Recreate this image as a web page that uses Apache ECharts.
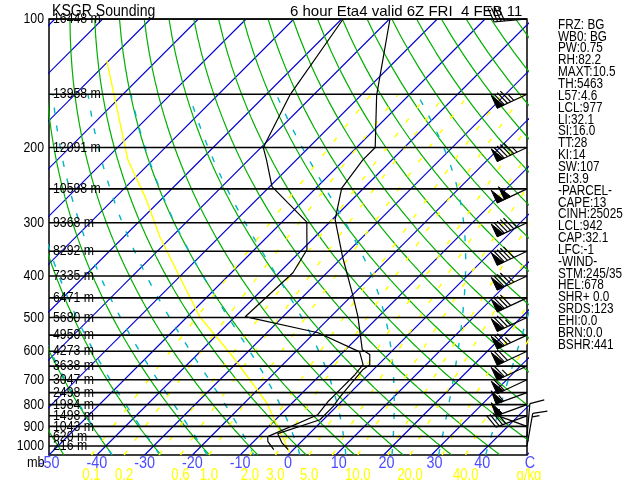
<!DOCTYPE html>
<html><head><meta charset="utf-8">
<script src="https://cdn.jsdelivr.net/npm/echarts@6.0.0/dist/echarts.min.js"></script>
<style>html,body{margin:0;padding:0;background:#fff}#c{width:640px;height:480px}</style>
</head><body><div id="c"></div>
<script>
// ---------------- data ----------------
const pressureLevels = [100,150,200,250,300,350,400,450,500,550,600,650,700,750,800,850,900,950,1000];
const heightLabels = ['16448 m','13958 m','12091 m','10598 m','9368 m','8292 m','7335 m','6471 m','5680 m','4950 m','4273 m','3638 m','3047 m','2498 m','1984 m','1498 m','1043 m','620 m','216 m'];
const pressureTicks = [100,200,300,400,500,600,700,800,900,1000];
const tempTicks = [-50,-40,-30,-20,-10,0,10,20,30,40];
const mixTicks = [0.1,0.2,0.6,1.0,2.0,3.0,5.0,10.0,20.0,40.0];

const tempP = [100,151,200,214,249,295,361,447,497,595,611,645,662,707,766,809,868,936,982,1020];
const tempT = [-69.9,-56.7,-46.1,-46.1,-44.6,-39.4,-30.0,-19.5,-14.4,-6.5,-3.9,-1.8,-2.2,-1.8,-1.3,-0.7,-0.7,-6.6,-3.9,-1.1];
const dewP = [100,151,200,214,247,299,347,393,498,543,602,645,681,738,788,845,951,977,1020];
const dewT = [-79.7,-74.9,-69.5,-66.2,-59.5,-44.8,-39.0,-37.1,-37.9,-19.3,-6.6,-3.2,-2.8,-2.8,-2.8,-2.2,-8.1,-7.0,-4.1];
const refLineP = [125,214,262,324,402,498,618,792,1037];
const refLineT = [-120.5,-95.2,-83.7,-72.4,-59.9,-47.4,-32.1,-15.4,-0.1];

const windP   = [100,150,200,250,300,350,400,450,500,550,600,650,700,750,800,850,900,950,1000];
const windDir = [265,245,245,245,245,245,245,245,245,245,245,245,245,250,250,250,290,5,10];
const windSpd = [40,85,95,100,95,90,85,80,75,75,70,65,60,55,50,40,5,10,15];

const statsLines = ['FRZ: BG','WB0: BG','PW:0.75','RH:82.2','MAXT:10.5','TH:5463','L57:4.6','LCL:977','LI:32.1','SI:16.0','TT:28','KI:14','SW:107','EI:3.9','-PARCEL-','CAPE:13','CINH:25025','LCL:942','CAP:32.1','LFC:-1','-WIND-','STM:245/35','HEL:678','SHR+ 0.0','SRDS:123','EHI:0.0','BRN:0.0','BSHR:441'];

// diagram template values
const isotherms = []; for (let t=-160;t<=50;t+=10) isotherms.push(t);
const dryThetas = []; for (let t=-50;t<=180;t+=10) dryThetas.push(t);
const moistThetaW = [-40,-30,-20,-10,0,10,20,30,40];
const mixLines = [0.1,0.2,0.4,0.6,1,2,3,5,7,10,15,20,30,40];

// ---------------- skew-T transform & thermodynamics ----------------
const SK = 38.8, PB = 1050, PT = 100;
const skx = (T,p) => T + SK*Math.log(PB/p);
const RD=287.04, CP=1005.7, LV=2.501e6, EPS=0.622;
const esat = Tc => 6.112*Math.exp(17.67*Tc/(Tc+243.5));
function dTdp(TK,p){const e=esat(TK-273.15);const rs=EPS*e/(p-e);return (RD*TK+LV*rs)/((CP+LV*LV*rs*EPS/(RD*TK*TK))*p);}
function tdFromW(w,p){const e=w*p/(622+w);const l=Math.log(e/6.112);return 243.5*l/(17.67-l);}

const series = [];
function addLine(pts,color,width,type,z){
  series.push({type:'line',data:pts,symbol:'none',silent:true,animation:false,clip:true,z:z,
    lineStyle:{color:color,width:width,type:type||'solid'}});
}
isotherms.forEach(t=>addLine([[skx(t,PB),PB],[skx(t,PT),PT]],'#0000d0',1.1,'solid',1));
dryThetas.forEach(th=>{const pts=[];for(let p=PB;p>=PT;p-=10){const T=(th+273.15)*Math.pow(p/1000,0.2857)-273.15;pts.push([skx(T,p),p]);}addLine(pts,'#00b000',1.2,'solid',1);});
moistThetaW.forEach(tw=>{
  const up=[];let T=tw+273.15;
  for(let p=1000;p>=150;p-=5){up.push([skx(T-273.15,p),p]);const dp=-5;const k1=dTdp(T,p);const k2=dTdp(T+dp*k1,p+dp);T+=dp*(k1+k2)/2;}
  const down=[];T=tw+273.15;
  for(let p=1000;p<PB;p+=5){const dp=5;const k1=dTdp(T,p);const k2=dTdp(T+dp*k1,p+dp);T+=dp*(k1+k2)/2;down.unshift([skx(T-273.15,p+dp),p+dp]);}
  addLine(down.concat(up),'#00b4c8',1.4,[6,12],1);
});
mixLines.forEach(w=>{const pts=[];for(let p=PB;p>=150;p-=25){pts.push([skx(tdFromW(w,p),p),p]);}addLine(pts,'#ffff00',1.5,[5,13],1);});
addLine(refLineP.map((p,i)=>[skx(refLineT[i],p),p]),'#ffff00',1.4,'solid',2);
pressureLevels.forEach(p=>addLine([[-50,p],[50,p]],'#000',1.6,'solid',3));
addLine(tempP.map((p,i)=>[skx(tempT[i],p),p]),'#000',1.2,'solid',4);
addLine(dewP.map((p,i)=>[skx(dewT[i],p),p]),'#000',1.2,'solid',4);

const FONT = '"Liberation Sans", Arial, sans-serif';
function txt(x,y,text,fill,size,align,sx){
  return {type:'text',x:x,y:y,scaleX:sx,style:{text:text,fill:fill,font:size+'px '+FONT,align:align,verticalAlign:'middle'}};
}
// pressure labels
series.push({type:'custom',coordinateSystem:'cartesian2d',clip:false,silent:true,animation:false,z:6,
  data:pressureTicks.map(p=>[-50,p]),
  renderItem:(params,api)=>{const pt=api.coord([api.value(0),api.value(1)]);
    return txt(pt[0]-5,pt[1],String(api.value(1)),'#000',15,'right',0.82);}});
// height labels
series.push({type:'custom',coordinateSystem:'cartesian2d',clip:false,silent:true,animation:false,z:6,
  data:pressureLevels.map((p,i)=>[-50,p,i]),
  renderItem:(params,api)=>{const pt=api.coord([api.value(0),api.value(1)]);
    return txt(pt[0]+4,pt[1],heightLabels[api.value(2)],'#000',15,'left',0.82);}});
// temperature labels
series.push({type:'custom',coordinateSystem:'cartesian2d',clip:false,silent:true,animation:false,z:6,
  data:tempTicks.map(t=>[t,PB]).concat([[50,PB]]),
  renderItem:(params,api)=>{const pt=api.coord([api.value(0),api.value(1)]);const v=api.value(0);
    return txt(pt[0]+(v>0?3:0),pt[1]+9,v===50?'C':String(v),'#4b4bff',16,'center',0.9);}});
// mixing ratio labels
series.push({type:'custom',coordinateSystem:'cartesian2d',clip:false,silent:true,animation:false,z:6,
  data:mixTicks.map((w,i)=>[skx(tdFromW(w,PB),PB),PB,i]).concat([[50,PB,-1]]),
  renderItem:(params,api)=>{const pt=api.coord([api.value(0),api.value(1)]);const i=api.value(2);
    return txt(pt[0]+(i<0?2:0),pt[1]+21,i<0?'g/kg':mixTicks[i].toFixed(1),'#ffff00',16,'center',0.82);}});
// wind barbs
series.push({type:'custom',coordinateSystem:'cartesian2d',clip:false,silent:true,animation:false,z:5,
  data:windP.map((p,i)=>[50,p,windDir[i],windSpd[i]]),
  renderItem:(params,api)=>{
    const base=api.coord([api.value(0),api.value(1)]);
    const dir=api.value(2)*Math.PI/180;let s=Math.round(api.value(3)/5)*5;
    const L=33,ux=Math.sin(dir),uy=-Math.cos(dir),vx=-uy,vy=ux;
    const tip=[base[0]+ux*L,base[1]+uy*L];
    const st={stroke:'#000',lineWidth:1.2};
    const ch=[{type:'line',shape:{x1:base[0],y1:base[1],x2:tip[0],y2:tip[1]},style:st}];
    let d=0;const tk=14,gap=3.5;
    while(s>=50){const a=[tip[0]-ux*d,tip[1]-uy*d];const b=[tip[0]-ux*(d+7),tip[1]-uy*(d+7)];const c=[a[0]+vx*tk,a[1]+vy*tk];
      ch.push({type:'polygon',shape:{points:[a,c,b]},style:{fill:'#000',stroke:'#000',lineWidth:1}});d+=8;s-=50;}
    while(s>=10){const a=[tip[0]-ux*d,tip[1]-uy*d];ch.push({type:'line',shape:{x1:a[0],y1:a[1],x2:a[0]+vx*tk+ux*tk*0.35,y2:a[1]+vy*tk+uy*tk*0.35},style:st});d+=gap;s-=10;}
    if(s>=5){if(d===0)d=gap;const a=[tip[0]-ux*d,tip[1]-uy*d];ch.push({type:'line',shape:{x1:a[0],y1:a[1],x2:a[0]+vx*tk*0.5+ux*tk*0.18,y2:a[1]+vy*tk*0.5+uy*tk*0.18},style:st});}
    return {type:'group',children:ch};
  }});

const chart = echarts.init(document.getElementById('c'),null,{renderer:'canvas'});
chart.setOption({
  animation:false,
  backgroundColor:'#fff',
  grid:{left:49,right:113,top:19,bottom:25,show:true,borderColor:'#000',borderWidth:1.5,backgroundColor:'transparent'},
  xAxis:{type:'value',min:-50,max:50,show:false,splitLine:{show:false}},
  yAxis:{type:'log',logBase:10,min:PT,max:PB,inverse:true,show:false,splitLine:{show:false}},
  graphic:[
    {type:'text',x:52,y:12,z:10,scaleX:0.88,style:{text:'KSGR Sounding',fill:'#000',font:'16px '+FONT,verticalAlign:'middle'}},
    {type:'text',x:290,y:12,z:10,style:{text:'6 hour Eta4 valid 6Z FRI  4 FEB 11',fill:'#000',font:'15px '+FONT,verticalAlign:'middle'}},
    {type:'text',x:27,y:463,z:10,scaleX:0.85,style:{text:'mb',fill:'#000',font:'15px '+FONT,verticalAlign:'middle'}},
    {type:'text',x:558,y:19,z:10,scaleX:0.84,style:{text:statsLines.join('\n'),fill:'#000',font:'14px '+FONT,lineHeight:11.85,verticalAlign:'top'}}
  ],
  series:series
});
</script></body></html>
